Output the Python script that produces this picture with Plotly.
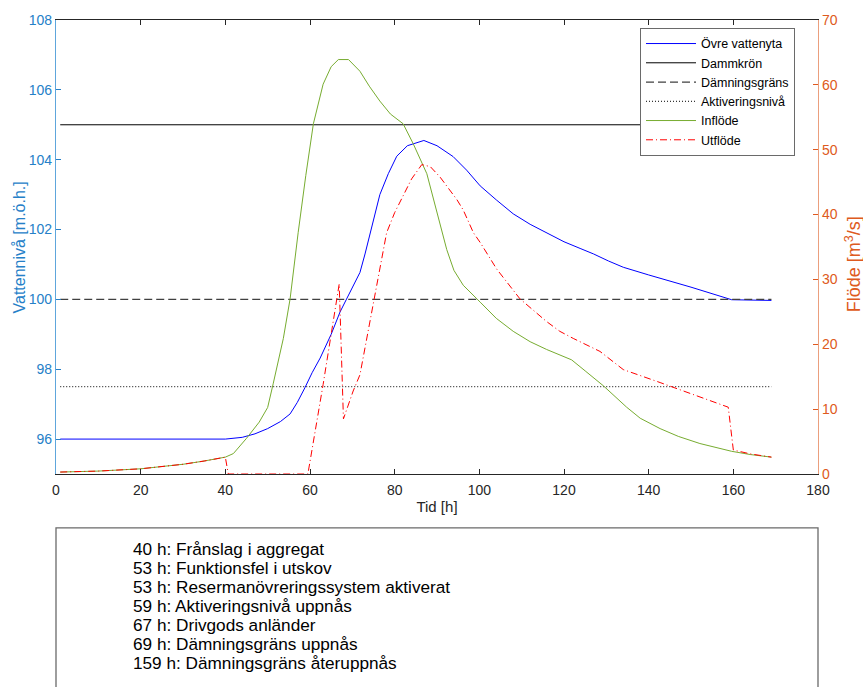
import plotly.graph_objects as go

# ---------------- data ----------------
t_level = [1, 40, 44, 47, 50, 53, 55.3, 57, 58.8, 60.5, 62.4, 65, 67.1, 69, 71.8, 73, 74.2,
           76.5, 78.5, 80.5, 83, 86.9, 90, 93.8, 97, 100.2, 104, 108, 112, 115.9, 120, 124,
           127, 130.5, 134, 140, 150, 159.6, 169]
level = [96.0, 96.0, 96.05, 96.15, 96.3, 96.5, 96.72, 97.05, 97.47, 97.9, 98.32, 99.0, 99.64,
         100.1, 100.77, 101.3, 101.9, 103.0, 103.6, 104.1, 104.4, 104.55, 104.4, 104.09, 103.7,
         103.25, 102.85, 102.45, 102.15, 101.9, 101.65, 101.45, 101.3, 101.1, 100.92, 100.7,
         100.35, 99.99, 99.97]

t_in = [1, 10, 20, 30, 35, 40, 41.9, 45, 48, 50, 51.3, 53.7, 55.3, 56.5, 57.2, 59, 60.8, 63.1,
        65, 66.7, 69.1, 71.8, 74, 76.5, 79, 82, 84.4, 87.6, 88.4, 90, 92.3, 94, 96.2, 100.2,
        104, 108, 112, 115.9, 119, 121.8, 125, 129.3, 134.8, 138, 142.7, 147, 152.1, 159.6,
        164, 169]
inflow = [0.3, 0.45, 0.8, 1.5, 2.0, 2.6, 3.15, 5.5, 8.0, 10.26, 13.9, 20.9, 27.0, 34.1, 37.2,
          46.0, 54.0, 60.1, 62.8, 63.9, 63.9, 62.1, 59.8, 57.5, 55.5, 54.0, 50.9, 46.3, 44.3,
          40.0, 34.6, 31.4, 29.1, 26.5, 24.0, 22.0, 20.4, 19.2, 18.3, 17.6, 15.9, 13.6, 10.3,
          8.6, 7.0, 5.8, 4.7, 3.5, 3.0, 2.6]

t_out = [1, 10, 20, 30, 35, 40, 40.7, 59.5, 63.1, 66.9, 67.9, 70.2, 71.8, 74.5, 77.3, 78.1, 80,
         82, 84, 86.4, 88.4, 90.7, 94.7, 96.2, 98.6, 100.2, 104.1, 109.6, 115.9, 119, 122.2,
         128.5, 134, 142.7, 150, 158.8, 160, 164, 169]
outflow = [0.3, 0.45, 0.8, 1.5, 2.0, 2.6, 0.0, 0.0, 13.8, 29.3, 8.5, 12.8, 15.3, 24.5, 34.1,
           37.2, 40.3, 42.8, 45.5, 47.7, 47.4, 45.8, 42.3, 40.7, 37.2, 35.7, 31.6, 27.0, 23.5,
           22.0, 20.9, 18.9, 16.1, 14.1, 12.4, 10.3, 3.7, 3.1, 2.6]

t_ref = [1, 169]
dammkron = 105.0
damningsgrans = 100.0
aktiveringsniva = 97.5

x_ticks = list(range(0, 181, 20))
y_left_ticks = [96, 98, 100, 102, 104, 106, 108]
y_right_ticks = list(range(0, 71, 10))

event_lines = [
    "40 h: Frånslag i aggregat",
    "53 h: Funktionsfel i utskov",
    "53 h: Resermanövreringssystem aktiverat",
    "59 h: Aktiveringsnivå uppnås",
    "67 h: Drivgods anländer",
    "69 h: Dämningsgräns uppnås",
    "159 h: Dämningsgräns återuppnås",
]

# ---------------- figure ----------------
W, H = 863, 687
ML, MR, MT, MB = 56, 45, 15, 213
FONT = "Liberation Sans, Arial, sans-serif"
LEFT_C = "#2580c8"
RIGHT_C = "#de5a20"

fig = go.Figure()
fig.add_trace(go.Scatter(x=t_level, y=level, name="Övre vattenyta", mode="lines",
                         line=dict(color="#0000ff", width=1)))
fig.add_trace(go.Scatter(x=t_ref, y=[dammkron] * 2, name="Dammkrön", mode="lines",
                         line=dict(color="#000000", width=1)))
fig.add_trace(go.Scatter(x=t_ref, y=[damningsgrans] * 2, name="Dämningsgräns", mode="lines",
                         line=dict(color="#404040", width=1.3, dash="8px,4px")))
fig.add_trace(go.Scatter(x=t_ref, y=[aktiveringsniva] * 2, name="Aktiveringsnivå", mode="lines",
                         line=dict(color="#000000", width=1, dash="1px,2px")))
fig.add_trace(go.Scatter(x=t_in, y=inflow, name="Inflöde", mode="lines", yaxis="y2",
                         line=dict(color="#77ac30", width=1)))
fig.add_trace(go.Scatter(x=t_out, y=outflow, name="Utflöde", mode="lines", yaxis="y2",
                         line=dict(color="#ff0000", width=1, dash="7px,3px,1px,3px")))

plot_h = H - MT - MB
plot_w = W - ML - MR


def py(pix_y):
    return (H - MB - pix_y) / plot_h


def px(pix_x):
    return (pix_x - ML) / plot_w


shapes = [dict(type="rect", xref="paper", yref="paper", x0=0, x1=1,
               y0=py(528.5), y1=py(760), line=dict(color="#6a6a6a", width=1.3),
               fillcolor="rgba(0,0,0,0)", layer="above")]

annotations = []
for i, txt in enumerate(event_lines):
    annotations.append(dict(text=txt, xref="paper", yref="paper", x=px(131),
                            y=py(549.5 + i * 19.3), xanchor="left", yanchor="middle",
                            showarrow=False, font=dict(family=FONT, size=17.2, color="#000000")))
# axis titles
annotations.append(dict(text="Vattennivå [m.ö.h.]", xref="paper", yref="paper",
                        x=px(19), y=py(245), textangle=-90, showarrow=False,
                        xanchor="center", yanchor="middle",
                        font=dict(family=FONT, size=16, color=LEFT_C)))
annotations.append(dict(text="Flöde [m<sup>3</sup>/s]", xref="paper", yref="paper",
                        x=px(853), y=py(262), textangle=-90, showarrow=False,
                        xanchor="center", yanchor="middle",
                        font=dict(family=FONT, size=18, color=RIGHT_C)))

fig.update_layout(
    width=W, height=H,
    margin=dict(l=ML, r=MR, t=MT, b=MB, pad=0),
    paper_bgcolor="white", plot_bgcolor="white",
    font=dict(family=FONT, size=14, color="#262626"),
    showlegend=True,
    legend=dict(x=px(640), y=py(23), xanchor="left", yanchor="top",
                bgcolor="white", bordercolor="#6a6a6a", borderwidth=1,
                font=dict(family=FONT, size=12.5, color="#000000"),
                itemwidth=50, tracegroupgap=0),
    xaxis=dict(range=[0, 180], tickvals=x_ticks, ticks="inside", ticklen=5,
               tickcolor="#262626", showline=True, linecolor="#262626", linewidth=1,
               mirror="ticks", showgrid=False, zeroline=False, ticklabelstandoff=3,
               tickfont=dict(size=14, color="#262626"),
               title=dict(text="Tid [h]", font=dict(size=15, color="#262626"), standoff=4)),
    yaxis=dict(range=[95, 108], tickvals=y_left_ticks, ticks="inside", ticklen=5,
               tickcolor=LEFT_C, showline=True, linecolor="#5ea6dc", linewidth=1.3,
               showgrid=False, zeroline=False,
               tickfont=dict(size=14, color=LEFT_C)),
    yaxis2=dict(range=[0, 70], tickvals=y_right_ticks, ticks="inside", ticklen=5,
                tickcolor=RIGHT_C, showline=True, linecolor="#eb9f7d", linewidth=1.3,
                overlaying="y", side="right", showgrid=False, zeroline=False,
                tickfont=dict(size=14, color=RIGHT_C)),
    shapes=shapes,
    annotations=annotations,
)

fig.write_html("out.html")
